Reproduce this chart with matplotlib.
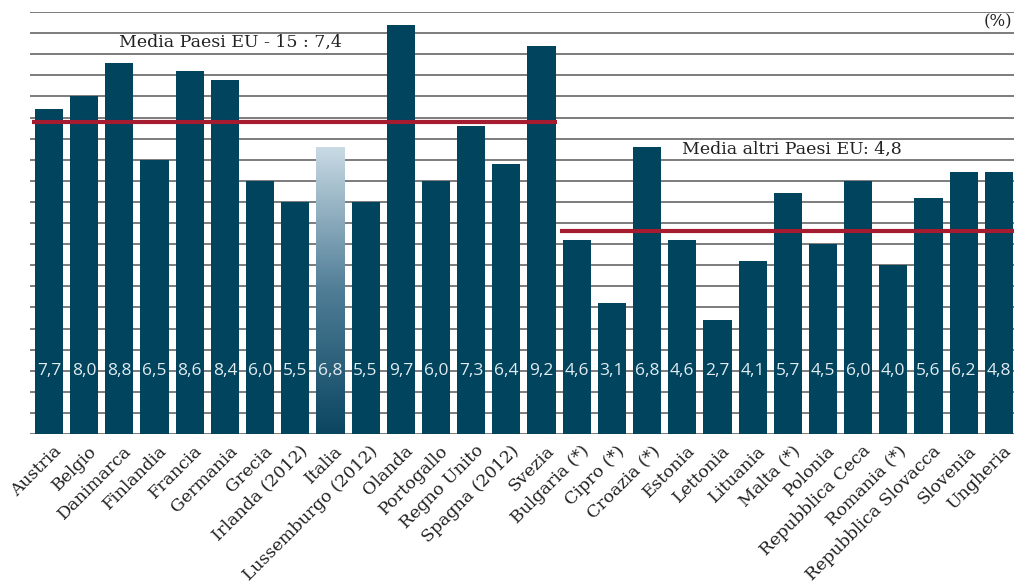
import numpy as np
import matplotlib
matplotlib.use("Agg")
import matplotlib.pyplot as plt
import matplotlib.transforms as mtransforms
from matplotlib.colors import LinearSegmentedColormap

paesi = ["Austria", "Belgio", "Danimarca", "Finlandia", "Francia", "Germania",
         "Grecia", "Irlanda (2012)", "Italia", "Lussemburgo (2012)", "Olanda",
         "Portogallo", "Regno Unito", "Spagna (2012)", "Svezia",
         "Bulgaria (*)", "Cipro (*)", "Croazia (*)", "Estonia", "Lettonia",
         "Lituania", "Malta (*)", "Polonia", "Repubblica Ceca", "Romania (*)",
         "Repubblica Slovacca", "Slovenia", "Ungheria"]
valori = [7.7, 8.0, 8.8, 6.5, 8.6, 8.4, 6.0, 5.5, 6.8, 5.5, 9.7, 6.0, 7.3, 6.4, 9.2,
          4.6, 3.1, 6.8, 4.6, 2.7, 4.1, 5.7, 4.5, 6.0, 4.0, 5.6, 6.2, 6.2]
etichette = ["7,7", "8,0", "8,8", "6,5", "8,6", "8,4", "6,0", "5,5", "6,8", "5,5",
             "9,7", "6,0", "7,3", "6,4", "9,2", "4,6", "3,1", "6,8", "4,6", "2,7",
             "4,1", "5,7", "4,5", "6,0", "4,0", "5,6", "6,2", "4,8"]
media_eu15 = 7.4
media_altri = 4.8
n_eu15 = 15
evidenziato = "Italia"

blu = "#00445e"
rosso = "#a51c30"

fig = plt.figure(figsize=(10.14, 5.86), dpi=100)
ax = fig.add_axes([30 / 1014, (586 - 434) / 586, 1 - 30 / 1014, (434 - 12) / 586])

x = np.arange(len(paesi))
w = 0.8

# gridlines every 0.5
for g in np.arange(0, 10.01, 0.5):
    ax.axhline(g, color="#666666", lw=1.2, zorder=1)

bars = ax.bar(x, valori, width=w, color=blu, zorder=2)

# Italy bar with a vertical gradient
i = paesi.index(evidenziato)
b = bars[i]
b.set_facecolor("none")
cmap = LinearSegmentedColormap.from_list("it", ["#0b4661", "#4f7d96", "#c9dae4"])
grad = np.linspace(0, 1, 256).reshape(-1, 1)
im = ax.imshow(grad, cmap=cmap, origin="lower", aspect="auto",
               extent=[x[i] - w / 2, x[i] + w / 2, 0, valori[i]], zorder=2)
im.set_clip_path(b)

for xi, lab in zip(x, etichette):
    ax.text(xi, 1.5, lab, ha="center", va="center", color="#e3ecf1",
            fontsize=12.5, family="Open Sans", zorder=3)

# average lines
ax.plot([-0.48, n_eu15 - 0.57], [media_eu15, media_eu15], color=rosso, lw=3, zorder=3,
        solid_capstyle="butt")
ax.plot([n_eu15 - 0.48, len(paesi) - 0.57], [media_altri, media_altri], color=rosso, lw=3,
        zorder=3, solid_capstyle="butt")

ax.text(2.0, 9.27, "Media Paesi EU - 15 : 7,4", family="DejaVu Serif", fontsize=12.5,
        va="center", ha="left", color="#222222")
ax.text(18.0, 6.74, "Media altri Paesi EU: 4,8", family="DejaVu Serif", fontsize=12.5,
        va="center", ha="left", color="#222222")
ax.text(len(paesi) - 0.63, 9.76, "(%)", family="DejaVu Serif", fontsize=12,
        va="center", ha="right", color="#222222")

ax.set_xlim(-0.54, len(paesi) - 0.57)
ax.set_ylim(0, 10)
for s in ax.spines.values():
    s.set_visible(False)
ax.set_yticks([])
ax.set_xticks(x)
ax.set_xticklabels(paesi, rotation=45, ha="right", rotation_mode="anchor",
                   family="DejaVu Serif", fontsize=12.5, color="#222222")
ax.tick_params(axis="x", length=0, pad=6)
shift = mtransforms.ScaledTranslation(4 / 100, 0, fig.dpi_scale_trans)
for t in ax.get_xticklabels():
    t.set_transform(t.get_transform() + shift)

fig.savefig("out.png", dpi=100)
